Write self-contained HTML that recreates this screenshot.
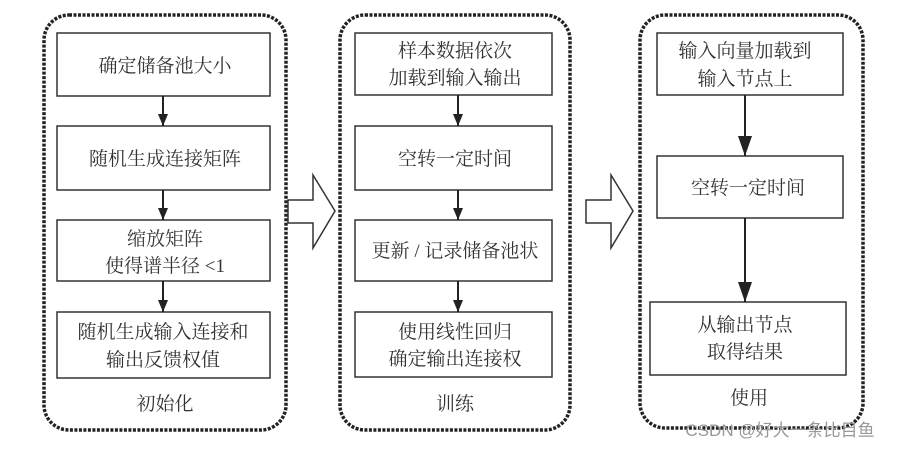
<!DOCTYPE html>
<html><head><meta charset="utf-8"><style>
body{margin:0;background:#fff;}
svg text{font-family:"Liberation Serif","Noto Serif CJK SC",serif;font-size:19px;fill:#333;text-anchor:middle;}
</style></head><body>
<svg width="901" height="446" viewBox="0 0 901 446" xmlns="http://www.w3.org/2000/svg">
<defs>
<marker id="a" markerWidth="12" markerHeight="10" refX="12" refY="5" orient="auto" markerUnits="userSpaceOnUse"><path d="M0,0 L12,5 L0,10 Z" fill="#222"/></marker>
<marker id="b" markerWidth="20" markerHeight="14" refX="20" refY="7" orient="auto" markerUnits="userSpaceOnUse"><path d="M0,0 L20,7 L0,14 Z" fill="#222"/></marker>
</defs>
<g fill="none" stroke="#222" stroke-width="3.5" stroke-dasharray="3,1.5">
<rect x="44" y="15" width="242" height="415" rx="25"/>
<rect x="340" y="15" width="230" height="415" rx="25"/>
<rect x="640" y="15" width="223" height="413" rx="25"/>
</g>
<g fill="#fff" stroke="#333" stroke-width="1.5">
<rect x="57" y="33" width="213" height="63"/>
<rect x="57" y="126" width="213" height="64"/>
<rect x="57" y="220" width="213" height="61"/>
<rect x="57" y="312" width="213" height="66"/>
<rect x="355" y="33" width="197" height="62"/>
<rect x="355" y="126" width="197" height="64"/>
<rect x="355" y="220" width="197" height="61"/>
<rect x="355" y="312" width="197" height="65"/>
<rect x="657" y="33" width="186" height="62"/>
<rect x="657" y="156" width="186" height="62"/>
<rect x="650" y="302" width="196" height="73"/>
<path d="M288,200 H313 V175 L335,211 L313,248 V223 H288 Z"/>
<path d="M586,200 H611 V175 L633,211 L611,248 V223 H586 Z"/>
</g>
<g stroke="#222" stroke-width="2">
<line x1="163" y1="96" x2="163" y2="126" marker-end="url(#a)"/>
<line x1="163" y1="190" x2="163" y2="220" marker-end="url(#a)"/>
<line x1="163" y1="281" x2="163" y2="312" marker-end="url(#a)"/>
<line x1="458" y1="95" x2="458" y2="126" marker-end="url(#a)"/>
<line x1="458" y1="190" x2="458" y2="220" marker-end="url(#a)"/>
<line x1="458" y1="281" x2="458" y2="312" marker-end="url(#a)"/>
<line x1="745" y1="95" x2="745" y2="156" marker-end="url(#b)"/>
<line x1="745" y1="218" x2="745" y2="302" marker-end="url(#b)"/>
</g>
<text x="165" y="72">确定储备池大小</text>
<text x="165" y="165">随机生成连接矩阵</text>
<text x="165" y="245">缩放矩阵</text>
<text x="165" y="272">使得谱半径 &lt;1</text>
<text x="163" y="338">随机生成输入连接和</text>
<text x="163" y="366">输出反馈权值</text>
<text x="165" y="410">初始化</text>
<text x="455" y="57">样本数据依次</text>
<text x="455" y="84">加载到输入输出</text>
<text x="455" y="165">空转一定时间</text>
<text x="455" y="257">更新 / 记录储备池状</text>
<text x="455" y="338">使用线性回归</text>
<text x="455" y="365">确定输出连接权</text>
<text x="455" y="410">训练</text>
<text x="745" y="57">输入向量加载到</text>
<text x="745" y="85">输入节点上</text>
<text x="748" y="194">空转一定时间</text>
<text x="745" y="331">从输出节点</text>
<text x="745" y="358">取得结果</text>
<text x="749" y="404">使用</text>
<text x="780" y="436" style="font-family:'Liberation Sans','Noto Sans CJK SC',sans-serif;font-size:17px;fill:#999">CSDN @好大一条比目鱼</text>
</svg>
</body></html>
